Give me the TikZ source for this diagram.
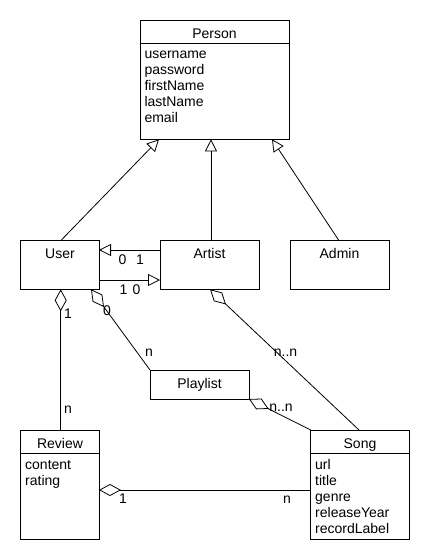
\documentclass[tikz,border=0pt]{standalone}
\usepackage{fontspec}
\setmainfont{Liberation Sans}
\usetikzlibrary{arrows.meta,calc}
\begin{document}
\begin{tikzpicture}[x=1pt,y=-1pt,
  box/.style 2 args={draw, line width=0.8pt, anchor=north west, inner sep=0pt, outer sep=0pt, minimum width=#1, minimum height=#2},
  txt/.style={inner sep=0pt, outer sep=0pt, font=\fontsize{14}{16}\selectfont},
  title/.style={txt, anchor=base},
  attr/.style={txt, anchor=base west},
  mult/.style={txt, anchor=base},
  conn/.style={line width=0.8pt},
  gen/.style={conn, -{Triangle[open, length=12pt, width=12pt]}},
  agg/.style={conn, {Diamond[open, length=22pt, width=12pt]}-}]
\useasboundingbox (0,0) rectangle (430,560);
\fill[white] (0,0) rectangle (430,560);

% boxes
\node[box={149pt}{118.6pt}] (person) at (140,20.7) {};
\node[box={78.3pt}{48.6pt}] (user) at (20.7,240.7) {};
\node[box={99pt}{48.6pt}] (artist) at (160,240.7) {};
\node[box={99pt}{48.6pt}] (admin) at (290,240.7) {};
\node[box={99pt}{29pt}] (playlist) at (150,370) {};
\node[box={78.3pt}{109pt}] (review) at (20.7,430) {};
\node[box={98.3pt}{109pt}] (song) at (310.7,430) {};

% header separators
\draw[conn] ($(person.north west)+(0,22.3)$) -- ($(person.north east)+(0,22.3)$);
\draw[conn] ($(review.north west)+(0,23)$) -- ($(review.north east)+(0,23)$);
\draw[conn] ($(song.north west)+(0,23)$) -- ($(song.north east)+(0,23)$);

% titles
\node[title] (tperson) at (214.5,38) {Person};
\node[title] (tuser) at (60,258) {User};
\node[title] (tartist) at (209.5,258) {Artist};
\node[title] (tadmin) at (339.5,258) {Admin};
\node[title] (tplaylist) at (199.5,388) {Playlist};
\node[title] (treview) at (60,448) {Review};
\node[title] (tsong) at (360,448) {Song};

% attributes
\node[attr] (pa1) at (144.5,58) {username};
\node[attr] (pa2) at (144.5,74) {password};
\node[attr] (pa3) at (144.5,90) {firstName};
\node[attr] (pa4) at (144.5,106) {lastName};
\node[attr] (pa5) at (144.5,122) {email};
\node[attr] (ra1) at (25.2,469) {content};
\node[attr] (ra2) at (25.2,485) {rating};
\node[attr] (sa1) at (315.2,469) {url};
\node[attr] (sa2) at (315.2,485) {title};
\node[attr] (sa3) at (315.2,501) {genre};
\node[attr] (sa4) at (315.2,517) {releaseYear};
\node[attr] (sa5) at (315.2,533) {recordLabel};

% generalisations
\draw[gen] ($(user.north west)+(40,0)$) -- ($(person.south west)+(19,0)$);
\draw[gen] ($(artist.north west)+(51,0)$) -- ($(person.south west)+(71,0)$);
\draw[gen] ($(admin.north west)+(49,0)$) -- ($(person.south west)+(132,0)$);
\draw[gen] ($(artist.north west)+(0,9.3)$) -- ($(user.north east)+(0,9.3)$);
\draw[gen] ($(user.north east)+(0,39.3)$) -- ($(artist.north west)+(0,39.3)$);

% aggregations
\draw[agg] ($(user.south west)+(40,0)$) -- ($(review.north west)+(40,0)$);
\draw[agg] ($(user.south west)+(70.3,0)$) -- (playlist.north west);
\draw[agg] ($(artist.south west)+(50,0)$) -- ($(song.north west)+(48.3,0)$);
\draw[agg] (playlist.south east) -- (song.north west);
\draw[agg] ($(review.north east)+(0,60)$) -- ($(song.north west)+(0,60)$);

% multiplicities
\node[mult] (m1) at (122.5,264) {0};
\node[mult] (m2) at (140,264) {1};
\node[mult] (m3) at (123.5,294) {1};
\node[mult] (m4) at (136.5,294) {0};
\node[mult] (m5) at (68,318) {1};
\node[mult] (m6) at (68,413) {n};
\node[mult] (m7) at (107,315) {0};
\node[mult] (m8) at (149,356) {n};
\node[mult] (m9) at (285.5,356) {n..n};
\node[mult] (m10) at (281,411) {n..n};
\node[mult] (m11) at (123,503) {1};
\node[mult] (m12) at (287,503) {n};
\end{tikzpicture}
\end{document}
